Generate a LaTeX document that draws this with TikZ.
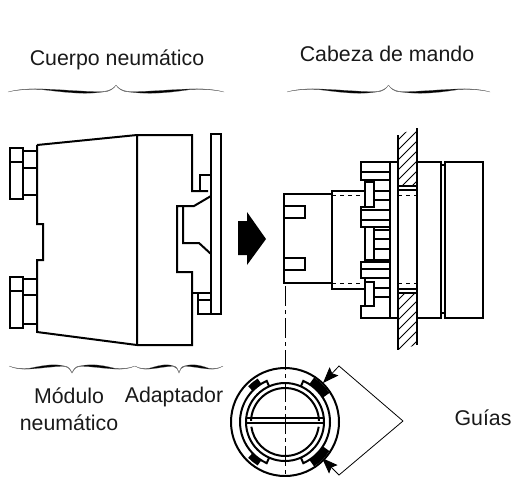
\documentclass[tikz,border=0pt]{standalone}
\usepackage{fontspec}
\setmainfont{Liberation Sans}
\usetikzlibrary{arrows.meta}
\newcommand{\wavebrace}[4]{
	\begin{scope}[shift={(#1,#3)}, xscale=#2/216, yscale=#4]
		\fill[black, draw=black!50, line width=.15pt] (0,0) .. controls (10,-3) and (25,-3.5) .. (35,-3) .. controls (55,-2.5) and (80,0) .. (95,-.5) .. controls (102,-1) and (106,-4) .. (108,-7) .. controls (110,-4) and (114,-1) .. (121,-.5) .. controls (136,0) and (161,-2.5) .. (181,-3) .. controls (191,-3.5) and (206,-3) .. (216,0) .. controls (206,-2.6) and (191,-3) .. (181,-2.2) .. controls (165,0) and (145,3) .. (121,0) .. controls (114,-.3) and (110,-3.5) .. (108,-7) .. controls (106,-3.5) and (102,-.3) .. (95,0) .. controls (75,3) and (55,0) .. (35,-2.2) .. controls (25,-3) and (10,-2.6) .. (0,0) -- cycle;
	\end{scope}
}
\begin{document}
\begin{tikzpicture}[x=.75pt, y=-.75pt, line width=1.5pt, line join=miter,
	label/.style = {font=\fontsize{16}{19}\selectfont, text=black!90, anchor=base, inner sep=0pt},
	thinline/.style = {line width=.6pt},
	axis/.style = {line width=.75pt, dash pattern=on 15pt off 3pt on 3pt off 3pt},
	guide/.style = {line width=6pt}]
	\useasboundingbox (0,0) rectangle (520,476);
	\node[label] (cuerpo) at (117,65) {Cuerpo neumático};
	\node[label] (cabeza) at (387,61) {Cabeza de mando};
	\node[label] (modulo) at (69,403) {Módulo};
	\node[label] (neumatico) at (69,430) {neumático};
	\node[label] (adaptador) at (174,402) {Adaptador};
	\node[label] (guias) at (483,425) {Guías};
	\wavebrace{8}{216}{92}{1}
	\wavebrace{287}{203}{92}{1}
	\wavebrace{9}{126}{366}{-1}
	\wavebrace{135}{88}{366}{-1}
	\draw (37,145) -- (137,135) -- (192,135) -- (192,191) -- (208,191) (137,135) -- (137,345);
	\draw (37,145) -- (37,224) -- (43,224) -- (43,260) -- (37,260) -- (37,332) -- (137,345) -- (192,345) -- (192,272) -- (177,272) -- (177,206) -- (194,206) -- (211,196);
	\draw (183,206) -- (183,243) -- (199,243) -- (211,254);
	\draw (211,134) rectangle (221,314);
	\draw (211,134) -- (211,300) -- (198,300) (198,293) -- (198,314) -- (221,314) (192,293) -- (211,293);
	\draw (200,191) -- (200,175) -- (211,175);
	\draw (10,148) rectangle (23,199) (10,162) -- (23,162);
	\draw (23,151) -- (37,151) (23,168) -- (37,168) (23,195) -- (37,195);
	\draw (10,277) rectangle (23,328) (10,291) -- (23,291);
	\draw (23,279) -- (37,279) (23,295) -- (37,295) (23,324) -- (37,324);
	\fill (238,221) -- (247,221) -- (247,212) -- (266,239) -- (247,265) -- (247,255) -- (238,255) -- cycle;
	\draw (332,194) -- (284,194) -- (284,283) -- (332,283);
	\draw (284,206) -- (305,206) -- (305,218) -- (284,218);
	\draw (284,258) -- (305,258) -- (305,270) -- (284,270);
	\draw (365,191) -- (332,191) -- (332,289) -- (365,289);
	\draw[thinline, dashed] (332,195) -- (361,195) (398,195) -- (417,195) (332,283) -- (361,283) (398,283) -- (417,283);
	\draw (398,162) -- (361,162) -- (361,180) -- (390,180) (361,172) -- (390,172);
	\draw (390,162) -- (390,318) -- (398,318);
	\draw (365,180) -- (365,207) -- (374,207) -- (374,182) -- (365,182);
	\draw (374,191) -- (390,191) (374,200) -- (390,200);
	\draw (374,207) -- (361,207) -- (361,227) -- (390,227) (361,210) -- (390,210) (361,220) -- (390,220);
	\draw (365,227) -- (365,260) -- (374,260) -- (374,228);
	\draw (374,230) -- (390,230) (374,239) -- (390,239) (374,249) -- (390,249) (374,260) -- (390,260);
	\draw (365,262) -- (361,262) -- (361,278) -- (390,278) (361,262) -- (390,262) (361,269) -- (390,269);
	\draw (365,278) -- (365,306) -- (374,306) -- (374,282) -- (365,282);
	\draw (374,288) -- (390,288) (374,297) -- (390,297);
	\draw (365,306) -- (361,306) -- (361,318) -- (390,318);
	\draw (398,135) -- (398,350) (417,128) -- (417,345);
	\draw (398,186) -- (417,186) (398,190) -- (417,190) (398,289) -- (417,289) (398,293) -- (417,293);
	\begin{scope}
		\clip (398,135) -- (417,128) -- (417,186) -- (398,186) -- cycle (398,293) -- (417,293) -- (417,345) -- (398,350) -- cycle;
		\foreach \y in {140,150,...,370}
			\draw[thinline] (398,\y) -- (417,\y-19);
	\end{scope}
	\draw (417,162) -- (441,162) -- (441,318) -- (417,318);
	\draw (441,165) -- (445,165) (441,313) -- (445,313);
	\draw (445,318) -- (445,162) -- (483,162) -- (483,318) -- cycle;
	\coordinate (center) at (285,422);
	\draw (center) circle (54) (center) circle (39);
	\draw ([shift={(8:34)}]center) arc[start angle=8, end angle=172, radius=34];
	\draw (center) ++(-38.7,-4.5) -- ++(77.4,0);
	\draw[line width=1.8pt] (center) ++(-38.7,1) -- ++(77.4,0);
	\draw ([shift={(-2:34)}]center) arc[start angle=-2, end angle=-178, radius=34];
	\draw ([shift={(-66:39)}]center) -- ([shift={(-66:45)}]center) arc[start angle=-66, end angle=66, radius=45] -- ([shift={(66:39)}]center);
	\draw ([shift={(114:39)}]center) -- ([shift={(114:45)}]center) arc[start angle=114, end angle=246, radius=45] -- ([shift={(246:39)}]center);
	\draw[guide] ([shift={(-57:49)}]center) arc[start angle=-57, end angle=-33, radius=49];
	\draw[guide] ([shift={(57:49)}]center) arc[start angle=57, end angle=33, radius=49];
	\draw[guide, line width=5pt] ([shift={(-136:48)}]center) arc[start angle=-136, end angle=-122, radius=48];
	\draw[guide, line width=5pt] ([shift={(136:48)}]center) arc[start angle=136, end angle=122, radius=48];
	\coordinate (axistop) at (285,286);
	\coordinate (axisend) at (285,476);
	\draw[axis] (axistop) -- (axisend);
	\coordinate (leadup) at (339,366);
	\coordinate (leaddown) at (339,475);
	\coordinate (tipup) at (323,383);
	\coordinate (tipdown) at (322,458);
	\coordinate (corner) at (403,421);
	\draw[thinline, -{Stealth[length=12pt,width=9pt,inset=2pt]}] (corner) -- (leadup) -- (tipup);
	\draw[thinline, -{Stealth[length=12pt,width=9pt,inset=2pt]}] (corner) -- (leaddown) -- (tipdown);
\end{tikzpicture}
\end{document}
